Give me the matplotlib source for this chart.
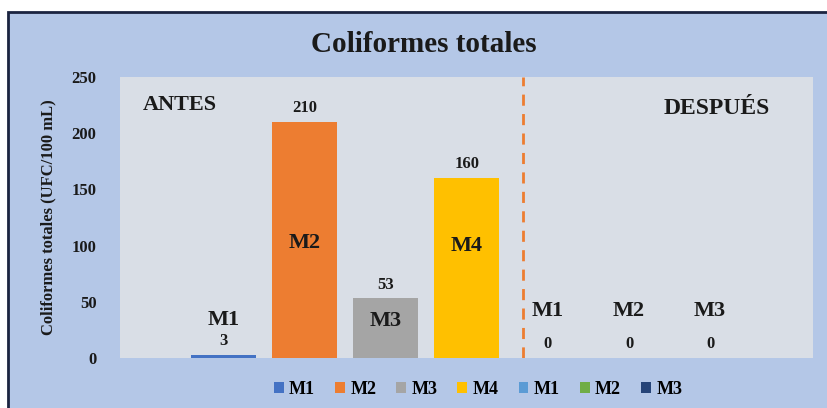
import matplotlib
matplotlib.use("Agg")
import matplotlib.pyplot as plt
from matplotlib.patches import Rectangle, Patch

plt.rcParams['font.family'] = ['Liberation Serif', 'DejaVu Serif']
plt.rcParams['font.weight'] = 'bold'

# Data: total coliforms per sample, before and after treatment
series_names = ["M1", "M2", "M3", "M4", "M1", "M2", "M3"]
values = [3, 210, 53, 160, 0, 0, 0]
colors = ["#4472C4", "#ED7D31", "#A5A5A5", "#FFC000", "#5B9BD5", "#70AD47", "#264478"]
y_ticks = [0, 50, 100, 150, 200, 250]

# Where each series-name label sits (data units on the y axis)
name_label_y = [34, 102, 33, 100, 42, 42, 42]

TEXT = "#1a1a1a"

fig = plt.figure(figsize=(8.27, 4.08), dpi=100, facecolor="white")

# Outer chart panel with its dark frame on the top and left
W, H = 827, 408
panel = Rectangle((8 / W, -0.05), 1.1, 1 - 12 / H + 0.05, transform=fig.transFigure,
                  facecolor="#B4C7E7", edgecolor="#1B2440", linewidth=2, zorder=-5)
fig.patches.append(panel)

ax = fig.add_axes([120 / W, 1 - 358 / H, (813 - 120) / W, (358 - 77) / H])
ax.set_zorder(1)
ax.set_facecolor("#D9DEE6")
for s in ax.spines.values():
    s.set_visible(False)

x = list(range(len(values)))
handles = []
for i, (name, v, c) in enumerate(zip(series_names, values, colors)):
    ax.bar(x[i], v, width=0.8, color=c, zorder=2)
    handles.append(Patch(facecolor=c, edgecolor="none", label=name))
    ax.annotate(f"{v}", xy=(x[i], v), xytext=(0, 10), textcoords="offset points",
                ha="center", va="center", fontsize=12, fontweight="bold", color=TEXT, zorder=3)
    ax.text(x[i], name_label_y[i], name, ha="center", va="center", fontsize=16,
            fontweight="bold", color=TEXT, zorder=3)

ax.set_xlim(-1.28, 7.27)
ax.set_ylim(0, 250)
ax.set_yticks(y_ticks)
ax.set_yticklabels([str(t) for t in y_ticks], fontsize=12, fontweight="bold", color=TEXT)
ax.set_xticks([])
ax.tick_params(axis="y", length=0, pad=17)

# Divider between the before/after groups
ax.axvline(3.69, color="#ED7D31", linestyle=(0, (4, 3)), linewidth=2, zorder=1)

ax.text(-1.0, 225, "ANTES", ha="left", va="center", fontsize=16, fontweight="bold", color=TEXT)
ax.text(6.74, 222, "DESPUÉS", ha="right", va="center", fontsize=17, fontweight="bold", color=TEXT)

ax.set_ylabel("Coliformes totales (UFC/100 mL)", fontsize=12, fontweight="bold",
              color=TEXT, labelpad=11)

fig.text(424 / W, 1 - 44 / H, "Coliformes totales", ha="center", va="center",
         fontsize=21, fontweight="bold", color=TEXT)

fig.legend(handles=handles, loc="center", bbox_to_anchor=(478 / W, 1 - 389 / H),
           ncol=7, frameon=False, handlelength=0.55, handleheight=0.55,
           handletextpad=0.3, columnspacing=1.1, prop={"weight": "bold", "size": 13})

fig.savefig("out.png", dpi=100, facecolor=fig.get_facecolor())
